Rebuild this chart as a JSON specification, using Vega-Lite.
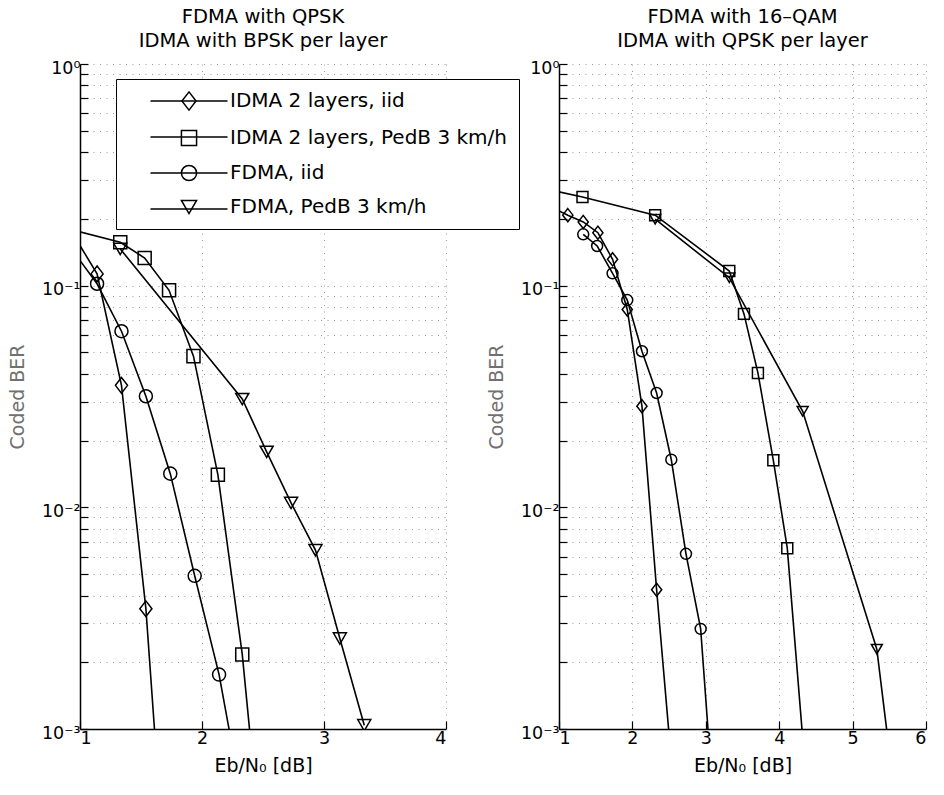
{
  "$schema": "https://vega.github.io/schema/vega-lite/v6.json",
  "padding": {"left": 8, "top": 6, "right": 5, "bottom": 5},
  "background": "white",
  "datasets": {
    "left": [
      {"series": "IDMA 2 layers, iid", "x": 0.94, "ber": 0.172},
      {"series": "IDMA 2 layers, iid", "x": 1.14, "ber": 0.113},
      {"series": "IDMA 2 layers, iid", "x": 1.34, "ber": 0.0355},
      {"series": "IDMA 2 layers, iid", "x": 1.54, "ber": 0.00349},
      {"series": "IDMA 2 layers, iid", "x": 1.74, "ber": 0.0001},
      {"series": "IDMA 2 layers, PedB 3 km/h", "x": 0.93, "ber": 0.179},
      {"series": "IDMA 2 layers, PedB 3 km/h", "x": 1.33, "ber": 0.157},
      {"series": "IDMA 2 layers, PedB 3 km/h", "x": 1.53, "ber": 0.1333},
      {"series": "IDMA 2 layers, PedB 3 km/h", "x": 1.73, "ber": 0.0953},
      {"series": "IDMA 2 layers, PedB 3 km/h", "x": 1.93, "ber": 0.0481},
      {"series": "IDMA 2 layers, PedB 3 km/h", "x": 2.13, "ber": 0.01404},
      {"series": "IDMA 2 layers, PedB 3 km/h", "x": 2.33, "ber": 0.00217},
      {"series": "IDMA 2 layers, PedB 3 km/h", "x": 2.53, "ber": 0.00016},
      {"series": "FDMA, iid", "x": 0.94, "ber": 0.144},
      {"series": "FDMA, iid", "x": 1.14, "ber": 0.102},
      {"series": "FDMA, iid", "x": 1.34, "ber": 0.0623},
      {"series": "FDMA, iid", "x": 1.54, "ber": 0.0317},
      {"series": "FDMA, iid", "x": 1.74, "ber": 0.01419},
      {"series": "FDMA, iid", "x": 1.94, "ber": 0.00491},
      {"series": "FDMA, iid", "x": 2.14, "ber": 0.00176},
      {"series": "FDMA, iid", "x": 2.34, "ber": 0.00044},
      {"series": "FDMA, PedB 3 km/h", "x": 1.33, "ber": 0.1465},
      {"series": "FDMA, PedB 3 km/h", "x": 2.33, "ber": 0.0308},
      {"series": "FDMA, PedB 3 km/h", "x": 2.53, "ber": 0.0178},
      {"series": "FDMA, PedB 3 km/h", "x": 2.73, "ber": 0.01047},
      {"series": "FDMA, PedB 3 km/h", "x": 2.93, "ber": 0.00641},
      {"series": "FDMA, PedB 3 km/h", "x": 3.13, "ber": 0.00256},
      {"series": "FDMA, PedB 3 km/h", "x": 3.33, "ber": 0.00104}
    ],
    "right": [
      {"series": "IDMA 2 layers, iid", "x": 0.92, "ber": 0.224},
      {"series": "IDMA 2 layers, iid", "x": 1.12, "ber": 0.208},
      {"series": "IDMA 2 layers, iid", "x": 1.33, "ber": 0.1938},
      {"series": "IDMA 2 layers, iid", "x": 1.53, "ber": 0.1734},
      {"series": "IDMA 2 layers, iid", "x": 1.73, "ber": 0.1315},
      {"series": "IDMA 2 layers, iid", "x": 1.93, "ber": 0.0781},
      {"series": "IDMA 2 layers, iid", "x": 2.13, "ber": 0.0286},
      {"series": "IDMA 2 layers, iid", "x": 2.33, "ber": 0.00425},
      {"series": "IDMA 2 layers, iid", "x": 2.53, "ber": 0.00072},
      {"series": "IDMA 2 layers, PedB 3 km/h", "x": 0.31, "ber": 0.297},
      {"series": "IDMA 2 layers, PedB 3 km/h", "x": 1.32, "ber": 0.2514},
      {"series": "IDMA 2 layers, PedB 3 km/h", "x": 2.31, "ber": 0.208},
      {"series": "IDMA 2 layers, PedB 3 km/h", "x": 3.32, "ber": 0.1164},
      {"series": "IDMA 2 layers, PedB 3 km/h", "x": 3.52, "ber": 0.0746},
      {"series": "IDMA 2 layers, PedB 3 km/h", "x": 3.71, "ber": 0.0404},
      {"series": "IDMA 2 layers, PedB 3 km/h", "x": 3.92, "ber": 0.0163},
      {"series": "IDMA 2 layers, PedB 3 km/h", "x": 4.11, "ber": 0.00654},
      {"series": "IDMA 2 layers, PedB 3 km/h", "x": 4.51, "ber": 0.000153},
      {"series": "FDMA, iid", "x": 1.33, "ber": 0.1705},
      {"series": "FDMA, iid", "x": 1.52, "ber": 0.151},
      {"series": "FDMA, iid", "x": 1.73, "ber": 0.1137},
      {"series": "FDMA, iid", "x": 1.93, "ber": 0.0861},
      {"series": "FDMA, iid", "x": 2.13, "ber": 0.0506},
      {"series": "FDMA, iid", "x": 2.33, "ber": 0.0328},
      {"series": "FDMA, iid", "x": 2.53, "ber": 0.0164},
      {"series": "FDMA, iid", "x": 2.73, "ber": 0.00617},
      {"series": "FDMA, iid", "x": 2.93, "ber": 0.00283},
      {"series": "FDMA, iid", "x": 3.13, "ber": 0.00035},
      {"series": "FDMA, PedB 3 km/h", "x": 2.31, "ber": 0.1994},
      {"series": "FDMA, PedB 3 km/h", "x": 3.32, "ber": 0.1086},
      {"series": "FDMA, PedB 3 km/h", "x": 4.32, "ber": 0.0271},
      {"series": "FDMA, PedB 3 km/h", "x": 5.33, "ber": 0.00229},
      {"series": "FDMA, PedB 3 km/h", "x": 5.53, "ber": 0.00066}
    ]
  },
  "hconcat": [
    {
      "width": 366,
      "height": 665,
      "title": {"text": ["FDMA with QPSK", "IDMA with BPSK per layer"]},
      "data": {"name": "left"},
      "layer": [
        {
          "mark": {"type": "point", "clip": true, "filled": false, "strokeWidth": 1.5, "size": 170, "color": "black", "opacity": 1},
          "encoding": {
            "x": {"field": "x", "type": "quantitative", "scale": {"domain": [1, 4], "nice": false, "zero": false},
                  "axis": {"values": [1, 2, 3, 4], "format": "d", "title": "Eb/N₀ [dB]", "grid": true}},
            "y": {"field": "ber", "type": "quantitative", "scale": {"type": "log", "domain": [0.001, 1], "nice": false},
                  "axis": {"values": [0.001, 0.002, 0.003, 0.004, 0.005, 0.006, 0.007, 0.008, 0.009, 0.01, 0.02, 0.03, 0.04, 0.05, 0.06, 0.07, 0.08, 0.09, 0.1, 0.2, 0.3, 0.4, 0.5, 0.6, 0.7, 0.8, 0.9, 1],
                           "labelExpr": "datum.value == 1 ? '10⁰' : datum.value == 0.1 ? '10⁻¹' : datum.value == 0.01 ? '10⁻²' : datum.value == 0.001 ? '10⁻³' : ''",
                           "title": "Coded BER", "grid": true}},
            "shape": {"field": "series", "type": "nominal",
                      "scale": {"domain": ["IDMA 2 layers, iid", "IDMA 2 layers, PedB 3 km/h", "FDMA, iid", "FDMA, PedB 3 km/h"], "range": ["M0,-1.2L0.93,0L0,1.2L-0.93,0Z", "square", "circle", "triangle-down"]},
                      "legend": {"orient": "none", "legendX": 36, "legendY": 15, "title": null, "padding": 12,
                                 "fillColor": "white", "strokeColor": "black",
                                 "symbolSize": 230, "symbolOffset": 51, "symbolStrokeWidth": 1.5, "symbolStrokeColor": "black", "symbolFillColor": "transparent",
                                 "labelOffset": 31, "labelFontSize": 20, "labelColor": "black", "labelLimit": 400, "rowPadding": 13}}
          }
        },
        {
          "mark": {"type": "line", "clip": true, "strokeWidth": 1.6},
          "encoding": {
            "x": {"field": "x", "type": "quantitative"},
            "y": {"field": "ber", "type": "quantitative"},
            "color": {"field": "series", "type": "nominal",
                      "scale": {"domain": ["FDMA, PedB 3 km/h", "FDMA, iid", "IDMA 2 layers, PedB 3 km/h", "IDMA 2 layers, iid"], "range": ["black", "black", "black", "black"]},
                      "legend": {"orient": "none", "legendX": 36, "legendY": 15, "title": null, "padding": 12,
                                 "values": ["IDMA 2 layers, iid", "IDMA 2 layers, PedB 3 km/h", "FDMA, iid", "FDMA, PedB 3 km/h"],
                                 "symbolType": "M-5.08,0H5.08M0,-1.2M0,1.2", "symbolSize": 230, "symbolOffset": 51, "symbolStrokeWidth": 1.6, "symbolStrokeColor": "black",
                                 "labelExpr": "''",
                                 "labelOffset": 31, "labelFontSize": 20, "labelLimit": 400, "rowPadding": 10}}
          }
        }
      ]
    },
    {
      "width": 367,
      "height": 665,
      "title": {"text": ["FDMA with 16–QAM", "IDMA with QPSK per layer"]},
      "data": {"name": "right"},
      "layer": [
        {
          "mark": {"type": "point", "clip": true, "filled": false, "strokeWidth": 1.5, "size": 120, "color": "black", "opacity": 1},
          "encoding": {
            "x": {"field": "x", "type": "quantitative", "scale": {"domain": [1, 6], "nice": false, "zero": false},
                  "axis": {"values": [1, 2, 3, 4, 5, 6], "format": "d", "title": "Eb/N₀ [dB]", "grid": true}},
            "y": {"field": "ber", "type": "quantitative", "scale": {"type": "log", "domain": [0.001, 1], "nice": false},
                  "axis": {"values": [0.001, 0.002, 0.003, 0.004, 0.005, 0.006, 0.007, 0.008, 0.009, 0.01, 0.02, 0.03, 0.04, 0.05, 0.06, 0.07, 0.08, 0.09, 0.1, 0.2, 0.3, 0.4, 0.5, 0.6, 0.7, 0.8, 0.9, 1],
                           "labelExpr": "datum.value == 1 ? '10⁰' : datum.value == 0.1 ? '10⁻¹' : datum.value == 0.01 ? '10⁻²' : datum.value == 0.001 ? '10⁻³' : ''",
                           "title": "Coded BER", "grid": true}},
            "shape": {"field": "series", "type": "nominal",
                      "scale": {"domain": ["IDMA 2 layers, iid", "IDMA 2 layers, PedB 3 km/h", "FDMA, iid", "FDMA, PedB 3 km/h"], "range": ["M0,-1.2L0.93,0L0,1.2L-0.93,0Z", "square", "circle", "triangle-down"]},
                      "legend": null}
          }
        },
        {
          "mark": {"type": "line", "clip": true, "strokeWidth": 1.6},
          "encoding": {
            "x": {"field": "x", "type": "quantitative"},
            "y": {"field": "ber", "type": "quantitative"},
            "color": {"field": "series", "type": "nominal",
                      "scale": {"domain": ["IDMA 2 layers, iid", "IDMA 2 layers, PedB 3 km/h", "FDMA, iid", "FDMA, PedB 3 km/h"], "range": ["black", "black", "black", "black"]},
                      "legend": null}
          }
        }
      ]
    }
  ],
  "spacing": 113,
  "bounds": "flush",
  "resolve": {"scale": {"color": "independent", "shape": "independent"}, "legend": {"color": "independent", "shape": "independent"}},
  "config": {
    "font": "DejaVu Sans",
    "view": {"stroke": null},
    "axis": {"labelFontSize": 17.5, "labelColor": "black", "labelFont": "DejaVu Sans",
             "titleFontSize": 19, "titleFontWeight": "normal", "titleFont": "DejaVu Sans",
             "domainColor": "black", "domainWidth": 1.5, "tickColor": "black", "tickWidth": 1.2, "tickSize": -8,
             "gridColor": "#9a9a9a", "gridDash": [1, 5.5], "gridWidth": 1},
    "axisX": {"labelPadding": 8, "titlePadding": 10, "titleColor": "black"},
    "axisY": {"labelPadding": 8, "titlePadding": 14, "titleColor": "#707070", "labelOffset": 4},
    "title": {"fontSize": 19.5, "fontWeight": "normal", "font": "DejaVu Sans", "color": "black", "lineHeight": 24, "offset": 8},
    "legend": {"labelFont": "DejaVu Sans"}
  }
}
